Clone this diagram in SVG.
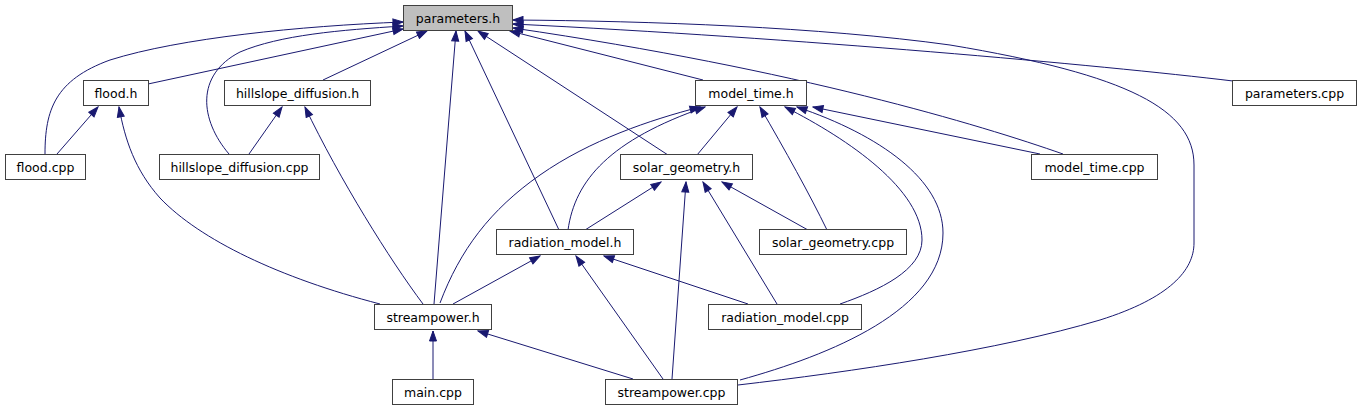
<svg xmlns="http://www.w3.org/2000/svg" width="1362" height="411" viewBox="0 0 1362 411">
<style>
.n rect{fill:#fff;stroke:#404040;stroke-width:1}
.n text{font-family:"DejaVu Sans",sans-serif;font-size:12.5px;text-anchor:middle;fill:#000}
.e path{fill:none;stroke:#191970;stroke-width:1;marker-end:url(#ah)}
</style>
<defs>
<marker id="ah" markerWidth="12" markerHeight="9" refX="11" refY="4.5" orient="auto" markerUnits="userSpaceOnUse">
<path d="M1,1 L11,4.5 L1,8 z" fill="#191970" stroke="#191970" stroke-width="1"/>
</marker>
</defs>
<rect width="1362" height="411" fill="#fff"/>
<g id="edges" class="e">
<path d="M45,154 C45,110 55,80 110,60 C180,38 300,26 403,22"/>
<path d="M148,84 L403,29"/>
<path d="M229,154 C200,120 195,75 240,52 C280,35 340,30 403,26"/>
<path d="M323,80 L427,31"/>
<path d="M434,304 L456,31"/>
<path d="M559,230 L465,31"/>
<path d="M668,155 L478,31"/>
<path d="M703,80 L510,31"/>
<path d="M1063,154 C980,125 800,70 513,28"/>
<path d="M1233,81 C1100,65 800,38 513,24"/>
<path d="M738,385 C850,372 1000,350 1100,320 C1170,298 1194,270 1194,243 L1194,165 C1194,110 1130,75 950,45 C820,27 650,21 513,20"/>
<path d="M440,303 C460,250 490,210 540,175 C590,140 650,120 700,107"/>
<path d="M568,230 C575,180 610,140 705,107"/>
<path d="M697,155 L737,107"/>
<path d="M827,230 C810,195 785,150 760,107"/>
<path d="M840,304 C880,290 922,270 922,240 C922,190 850,140 785,107"/>
<path d="M740,380 C830,355 943,310 943,233 C943,180 880,135 797,107"/>
<path d="M1040,154 L813,107"/>
<path d="M585,230 L661,182"/>
<path d="M672,379 L686,182"/>
<path d="M777,304 L703,182"/>
<path d="M808,230 L722,182"/>
<path d="M453,304 L540,256"/>
<path d="M663,379 L576,256"/>
<path d="M748,304 L604,256"/>
<path d="M433,379 L433,331"/>
<path d="M633,379 L478,331"/>
<path d="M57,154 L98,107"/>
<path d="M380,304 C280,278 200,240 160,198 C135,170 125,140 119,107"/>
<path d="M249,154 L282,107"/>
<path d="M423,304 C390,260 340,180 305,107"/>
</g>
<g id="parameters_h" class="n"><rect x="403.5" y="5.5" width="109" height="25" style="fill:#bfbfbf"/><text x="458" y="22.5">parameters.h</text></g>
<g id="flood_h" class="n"><rect x="83.5" y="80.5" width="65" height="25"/><text x="116" y="97.5">flood.h</text></g>
<g id="hillslope_diffusion_h" class="n"><rect x="224.5" y="80.5" width="146" height="25"/><text x="297.5" y="97.5">hillslope_diffusion.h</text></g>
<g id="model_time_h" class="n"><rect x="695.5" y="80.5" width="111" height="25"/><text x="751" y="97.5">model_time.h</text></g>
<g id="parameters_cpp" class="n"><rect x="1232.5" y="80.5" width="124" height="25"/><text x="1294.5" y="97.5">parameters.cpp</text></g>
<g id="flood_cpp" class="n"><rect x="5.5" y="154.5" width="80" height="25"/><text x="45.5" y="171.5">flood.cpp</text></g>
<g id="hillslope_diffusion_cpp" class="n"><rect x="159.5" y="154.5" width="160" height="25"/><text x="239.5" y="171.5">hillslope_diffusion.cpp</text></g>
<g id="solar_geometry_h" class="n"><rect x="620.5" y="154.5" width="132" height="25"/><text x="686.5" y="171.5">solar_geometry.h</text></g>
<g id="model_time_cpp" class="n"><rect x="1031.5" y="154.5" width="126" height="25"/><text x="1094.5" y="171.5">model_time.cpp</text></g>
<g id="radiation_model_h" class="n"><rect x="496.5" y="229.5" width="137" height="25"/><text x="565" y="246.5">radiation_model.h</text></g>
<g id="solar_geometry_cpp" class="n"><rect x="759.5" y="229.5" width="147" height="25"/><text x="833" y="246.5">solar_geometry.cpp</text></g>
<g id="streampower_h" class="n"><rect x="374.5" y="304.5" width="117" height="25"/><text x="433" y="321.5">streampower.h</text></g>
<g id="radiation_model_cpp" class="n"><rect x="708.5" y="304.5" width="153" height="25"/><text x="785" y="321.5">radiation_model.cpp</text></g>
<g id="main_cpp" class="n"><rect x="392.5" y="379.5" width="81" height="25"/><text x="433" y="396.5">main.cpp</text></g>
<g id="streampower_cpp" class="n"><rect x="605.5" y="379.5" width="132" height="25"/><text x="671.5" y="396.5">streampower.cpp</text></g>
</svg>
